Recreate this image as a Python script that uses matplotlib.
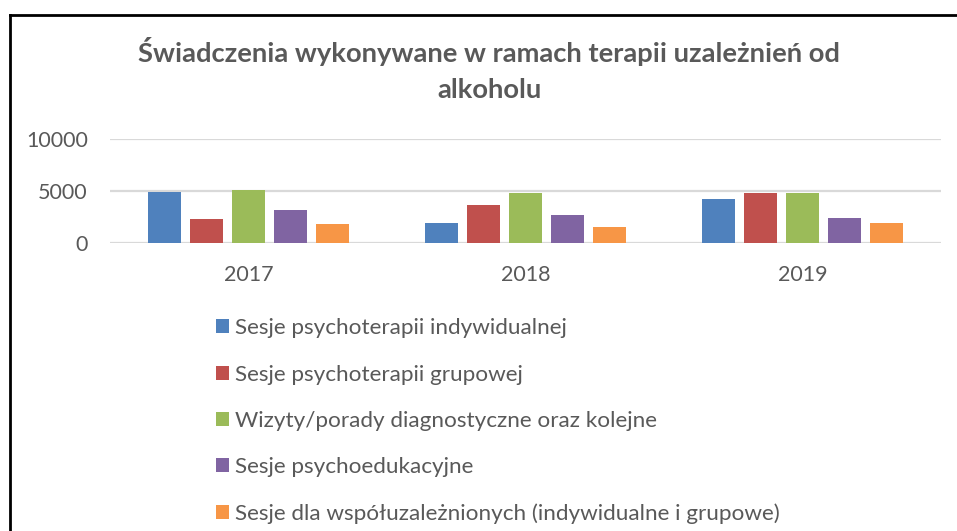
import matplotlib
matplotlib.use("Agg")
import matplotlib.pyplot as plt
import numpy as np
from matplotlib.lines import Line2D
from matplotlib.patches import Patch

plt.rcParams['font.family'] = ['Lato', 'DejaVu Sans']

years = ["2017", "2018", "2019"]
series_names = [
    "Sesje psychoterapii indywidualnej",
    "Sesje psychoterapii grupowej",
    "Wizyty/porady diagnostyczne oraz kolejne",
    "Sesje psychoedukacyjne",
    "Sesje dla współuzależnionych (indywidualne i grupowe)",
]
indywidualne = [4875, 1865, 4230]
grupowe = [2280, 3600, 4810]
wizyty = [5135, 4810, 4820]
psychoedukacja = [3210, 2635, 2400]
wspoluzaleznieni = [1770, 1480, 1890]
values = [indywidualne, grupowe, wizyty, psychoedukacja, wspoluzaleznieni]
colors = ["#4F81BD", "#C0504D", "#9BBB59", "#8064A2", "#F79646"]
yticks = [0, 5000, 10000]

W, H = 957, 531
fig = plt.figure(figsize=(W / 100, H / 100), dpi=100)
ax = fig.add_axes([110 / W, 1 - 242.7 / H, (941 - 110) / W, (242.7 - 139.3) / H])

x = np.arange(len(years))
step = 0.152
width = 0.119
for i, (vals, c) in enumerate(zip(values, colors)):
    ax.bar(x + (i - 2) * step, vals, width=width, color=c, zorder=3)

ax.set_xlim(-0.5, 2.5)
ax.set_ylim(0, 10000)
ax.set_yticks(yticks)
ax.set_xticks(x)
ax.set_xticklabels(years)
ax.grid(axis='y', color='#d9d9d9', linewidth=1.6, zorder=0)
for s in ax.spines.values():
    s.set_visible(False)
ax.tick_params(length=0, labelsize=15.5, colors='#595959')
ax.tick_params(axis='y', pad=16)
ax.tick_params(axis='x', pad=16)

fig.text(489 / W, 1 - 52 / H, "Świadczenia wykonywane w ramach terapii uzależnień od",
         ha='center', va='center', fontsize=19.7, fontweight='bold', color='#595959')
fig.text(489 / W, 1 - 90 / H, "alkoholu",
         ha='center', va='center', fontsize=19.7, fontweight='bold', color='#595959')

handles = [Patch(facecolor=c) for c in colors]
leg = fig.legend(handles, series_names, loc='upper left',
                 bbox_to_anchor=(205 / W, 1 - 307 / H), frameon=False,
                 fontsize=16.2, handlelength=0.58, handleheight=0.58,
                 handletextpad=0.25, labelspacing=1.17, borderpad=0)
for t in leg.get_texts():
    t.set_color('#595959')

# frame around the chart
fig.add_artist(Line2D([9.5 / W, 9.5 / W], [0, 1 - 14.5 / H], transform=fig.transFigure,
                      color='black', linewidth=2))
fig.add_artist(Line2D([9.5 / W, 1], [1 - 14.5 / H, 1 - 14.5 / H], transform=fig.transFigure,
                      color='black', linewidth=2))

fig.savefig("out.png", dpi=100)
